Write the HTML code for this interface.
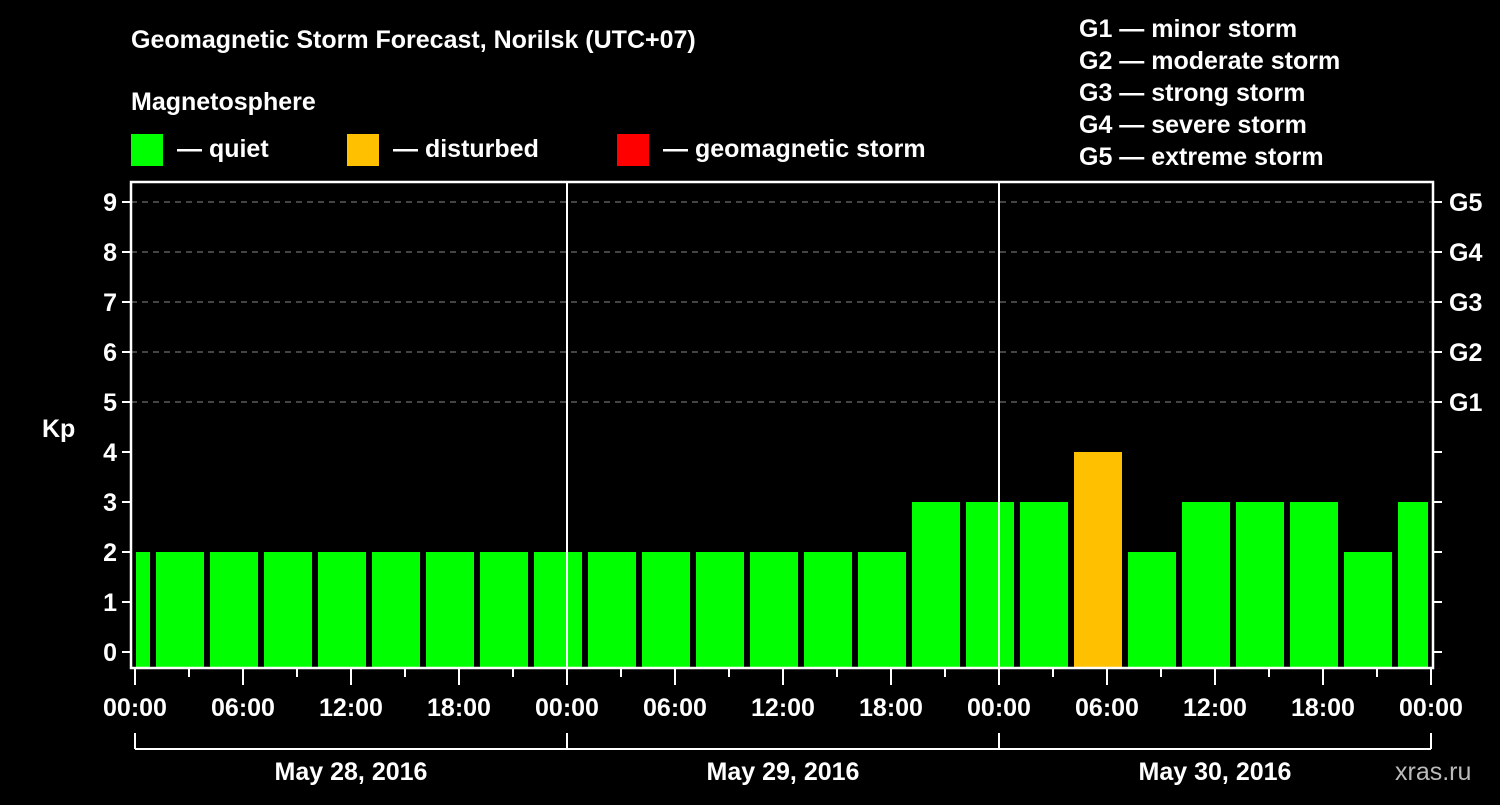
<!DOCTYPE html>
<html><head><meta charset="utf-8"><style>
html,body{margin:0;padding:0;background:#000;}
svg text{font-family:"Liberation Sans",Arial,sans-serif;font-weight:bold;fill:#fff;}
</style></head><body>
<svg id="chart" width="1500" height="800" viewBox="0 0 1500 800" xmlns="http://www.w3.org/2000/svg">
<rect width="1500" height="800" fill="#000"/>
<text x="131" y="48" font-size="25">Geomagnetic Storm Forecast, Norilsk (UTC+07)</text>
<text x="131" y="110" font-size="25">Magnetosphere</text>
<g><rect x="131" y="134" width="32" height="32" fill="#00ff00"/><text x="177" y="157" font-size="25">— quiet</text></g>
<g><rect x="347" y="134" width="32" height="32" fill="#ffc000"/><text x="393" y="157" font-size="25">— disturbed</text></g>
<g><rect x="617" y="134" width="32" height="32" fill="#ff0000"/><text x="663" y="157" font-size="25">— geomagnetic storm</text></g>
<g font-size="25">
<text x="1079" y="37">G1 — minor storm</text>
<text x="1079" y="69">G2 — moderate storm</text>
<text x="1079" y="101">G3 — strong storm</text>
<text x="1079" y="133">G4 — severe storm</text>
<text x="1079" y="165">G5 — extreme storm</text>
</g>
<text x="42" y="437" font-size="25">Kp</text>
<text x="1395" y="780" font-size="25" style="fill:#bbb;font-weight:normal">xras.ru</text>
<g id="grid"></g><g id="bars"></g><g id="axes"></g>
</svg>
<script>
const kpValues=[2,2,2,2,2,2,2,2,2, 2,2,2,2,2,2,3,3, 3,4,2,3,3,3,2,3];
const yTicks=[0,1,2,3,4,5,6,7,8,9];
const gLabels=["G1","G2","G3","G4","G5"];
const gLevels=[5,6,7,8,9];
const dayLabels=["May 28, 2016","May 29, 2016","May 30, 2016"];
const hourLabels=["00:00","06:00","12:00","18:00"];
const firstSlotHour=-2;

const NS="http://www.w3.org/2000/svg";
const X0=135,PXH=18,Y0=652,PXK=50,L=131,R=1433,T=182,B=668;
const xs=h=>X0+h*PXH, ys=k=>Y0-k*PXK;
function mk(tag,at,parent){const e=document.createElementNS(NS,tag);for(const k in at)e.setAttribute(k,at[k]);parent.appendChild(e);return e;}
const grid=document.getElementById('grid'),bars=document.getElementById('bars'),axes=document.getElementById('axes');
gLevels.forEach(k=>{const l=mk('line',{x1:L,x2:R,y1:ys(k),y2:ys(k),stroke:'#888','stroke-width':1,'stroke-dasharray':'6,5'},grid);

});
kpValues.forEach((v,i)=>{const s=firstSlotHour+i*3;let x1=Math.max(xs(s)+3,X0+1),x2=Math.min(xs(s+3)-3,1428);
const c=v>=5?'#ff0000':(v>=4?'#ffc000':'#00ff00');
const r=mk('rect',{x:x1,y:ys(v),width:x2-x1,height:B-ys(v),fill:c},bars);

});
[1,2].forEach(d=>{const l=mk('line',{x1:xs(24*d),x2:xs(24*d),y1:T,y2:B,stroke:'#fff','stroke-width':2},axes);

});
const fr=mk('rect',{x:L,y:T,width:R-L,height:B-T,fill:'none',stroke:'#fff','stroke-width':2.5},axes);


yTicks.forEach(k=>{mk('line',{x1:L-9,x2:L,y1:ys(k),y2:ys(k),stroke:'#fff','stroke-width':2},axes);
mk('line',{x1:R,x2:R+9,y1:ys(k),y2:ys(k),stroke:'#fff','stroke-width':2},axes);
const t=mk('text',{x:L-14,y:ys(k)+9,'font-size':25,'text-anchor':'end'},axes);t.textContent=k;

});
gLabels.forEach((g,i)=>{const t=mk('text',{x:1449,y:ys(gLevels[i])+9,'font-size':25},axes);t.textContent=g;

});
for(let h=0;h<=72;h+=3){const major=h%6===0;mk('line',{x1:xs(h),x2:xs(h),y1:B,y2:B+(major?17:9),stroke:'#fff','stroke-width':2},axes);}
for(let h=0;h<=72;h+=6){const t=mk('text',{x:xs(h),y:716,'font-size':25,'text-anchor':'middle'},axes);t.textContent=hourLabels[(h/6)%4];

}
mk('line',{x1:xs(0),x2:xs(72),y1:749,y2:749,stroke:'#fff','stroke-width':2},axes);
for(let d=0;d<=3;d++)mk('line',{x1:xs(24*d),x2:xs(24*d),y1:733,y2:749,stroke:'#fff','stroke-width':2},axes);
dayLabels.forEach((s,d)=>{const t=mk('text',{x:xs(24*d+12),y:780,'font-size':25,'text-anchor':'middle'},axes);t.textContent=s;

});
</script>
</body></html>
